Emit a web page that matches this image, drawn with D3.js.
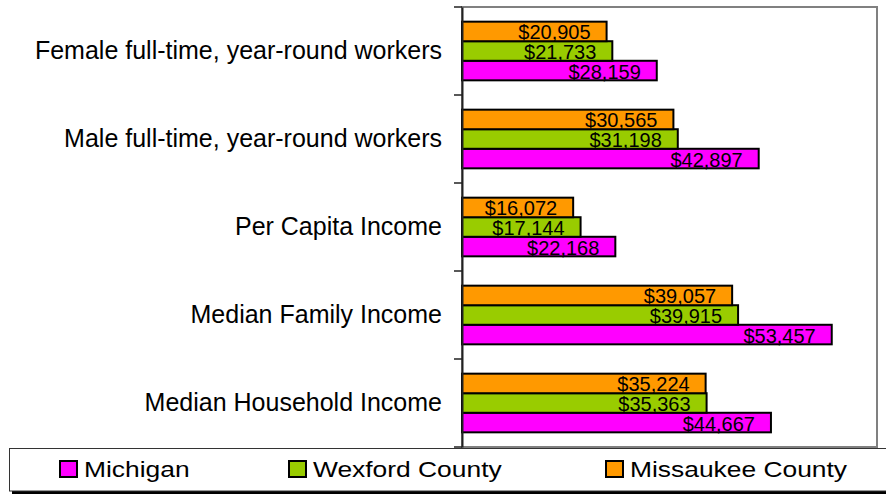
<!DOCTYPE html>
<html>
<head>
<meta charset="utf-8">
<script src="https://cdn.jsdelivr.net/npm/d3@7"></script>
<style>
  body { margin: 0; background: #fff; }
  svg { display: block; font-family: "Liberation Sans", Arial, sans-serif; }
</style>
</head>
<body>
<svg id="chart" width="886" height="495"></svg>
<script>
const categories = ["Female full-time, year-round workers", "Male full-time, year-round workers",
                    "Per Capita Income", "Median Family Income", "Median Household Income"];
const michigan = [28159, 42897, 22168, 53457, 44667];
const wexford = [21733, 31198, 17144, 39915, 35363];
const missaukee = [20905, 30565, 16072, 39057, 35224];
const seriesNames = ["Michigan", "Wexford County", "Missaukee County"];
const colors = ["#ff00ff", "#99cc00", "#ff9900"];

const plot = {left: 462, right: 877, top: 7, bottom: 447};

const svg = d3.select("#chart");

const x = d3.scaleLinear().domain([0, 60000]).range([plot.left, plot.right]);
const y = d3.scaleBand().domain(categories).range([plot.top, plot.bottom])
    .paddingInner(1 / 3).paddingOuter(1 / 6);
// order inside a group: Missaukee on top, Michigan at bottom
const inner = d3.scaleBand().domain([2, 1, 0]).range([0, y.bandwidth()]);

// plot frame
svg.append("rect")
    .attr("x", plot.left).attr("y", plot.top)
    .attr("width", plot.right - plot.left).attr("height", plot.bottom - plot.top)
    .attr("fill", "none").attr("stroke", "#808080").attr("stroke-width", 2);

const all = [michigan, wexford, missaukee];
const rows = [];
all.forEach((vals, s) => vals.forEach((v, i) => rows.push({s, cat: categories[i], v})));

svg.append("g")
    .selectAll("rect")
    .data(rows)
    .join("rect")
    .attr("x", x(0))
    .attr("y", d => y(d.cat) + inner(d.s))
    .attr("width", d => x(d.v) - x(0))
    .attr("height", inner.bandwidth())
    .attr("fill", d => colors[d.s])
    .attr("stroke", "#000")
    .attr("stroke-width", 2);

svg.append("g")
    .selectAll("text")
    .data(rows)
    .join("text")
    .attr("x", d => x(d.v) - 16)
    .attr("y", d => y(d.cat) + inner(d.s) + inner.bandwidth() / 2 + 1)
    .attr("text-anchor", "end")
    .attr("dominant-baseline", "central")
    .attr("font-size", 20)
    .attr("fill", "#000")
    .text(d => "$" + d3.format(",")(d.v));

// category axis
const yAxis = svg.append("g")
    .attr("transform", `translate(${plot.left},0)`)
    .call(d3.axisLeft(y).tickSize(0).tickPadding(20));
yAxis.select(".domain").attr("stroke", "#222").attr("stroke-width", 2);
yAxis.selectAll("text").attr("font-size", 25).attr("fill", "#000")
    .attr("font-family", "Liberation Sans, Arial, sans-serif");

const edges = categories.map(c => y(c) - y.step() * y.paddingInner() / 2);
edges.push(plot.bottom);
svg.append("g")
    .selectAll("line")
    .data(edges)
    .join("line")
    .attr("x1", plot.left - 8).attr("x2", plot.left)
    .attr("y1", d => d).attr("y2", d => d)
    .attr("stroke", "#222").attr("stroke-width", 1.5);

// legend
svg.append("rect")
    .attr("x", 12).attr("y", 451).attr("width", 880).attr("height", 43)
    .attr("fill", "#000");
svg.append("rect")
    .attr("x", 9.5).attr("y", 448.5).attr("width", 880).attr("height", 42.5)
    .attr("fill", "#fff").attr("stroke", "#333").attr("stroke-width", 1);

const legendX = [60, 289, 606];
const legend = svg.append("g")
    .selectAll("g")
    .data(seriesNames)
    .join("g")
    .attr("transform", (d, i) => `translate(${legendX[i]},461)`);
legend.append("rect")
    .attr("width", 17).attr("height", 16)
    .attr("fill", (d, i) => colors[i])
    .attr("stroke", "#000").attr("stroke-width", 2);
legend.append("text")
    .attr("transform", "translate(24,16) scale(1.2,1)")
    .attr("font-size", 22)
    .attr("fill", "#000")
    .text(d => d);
</script>
</body>
</html>
